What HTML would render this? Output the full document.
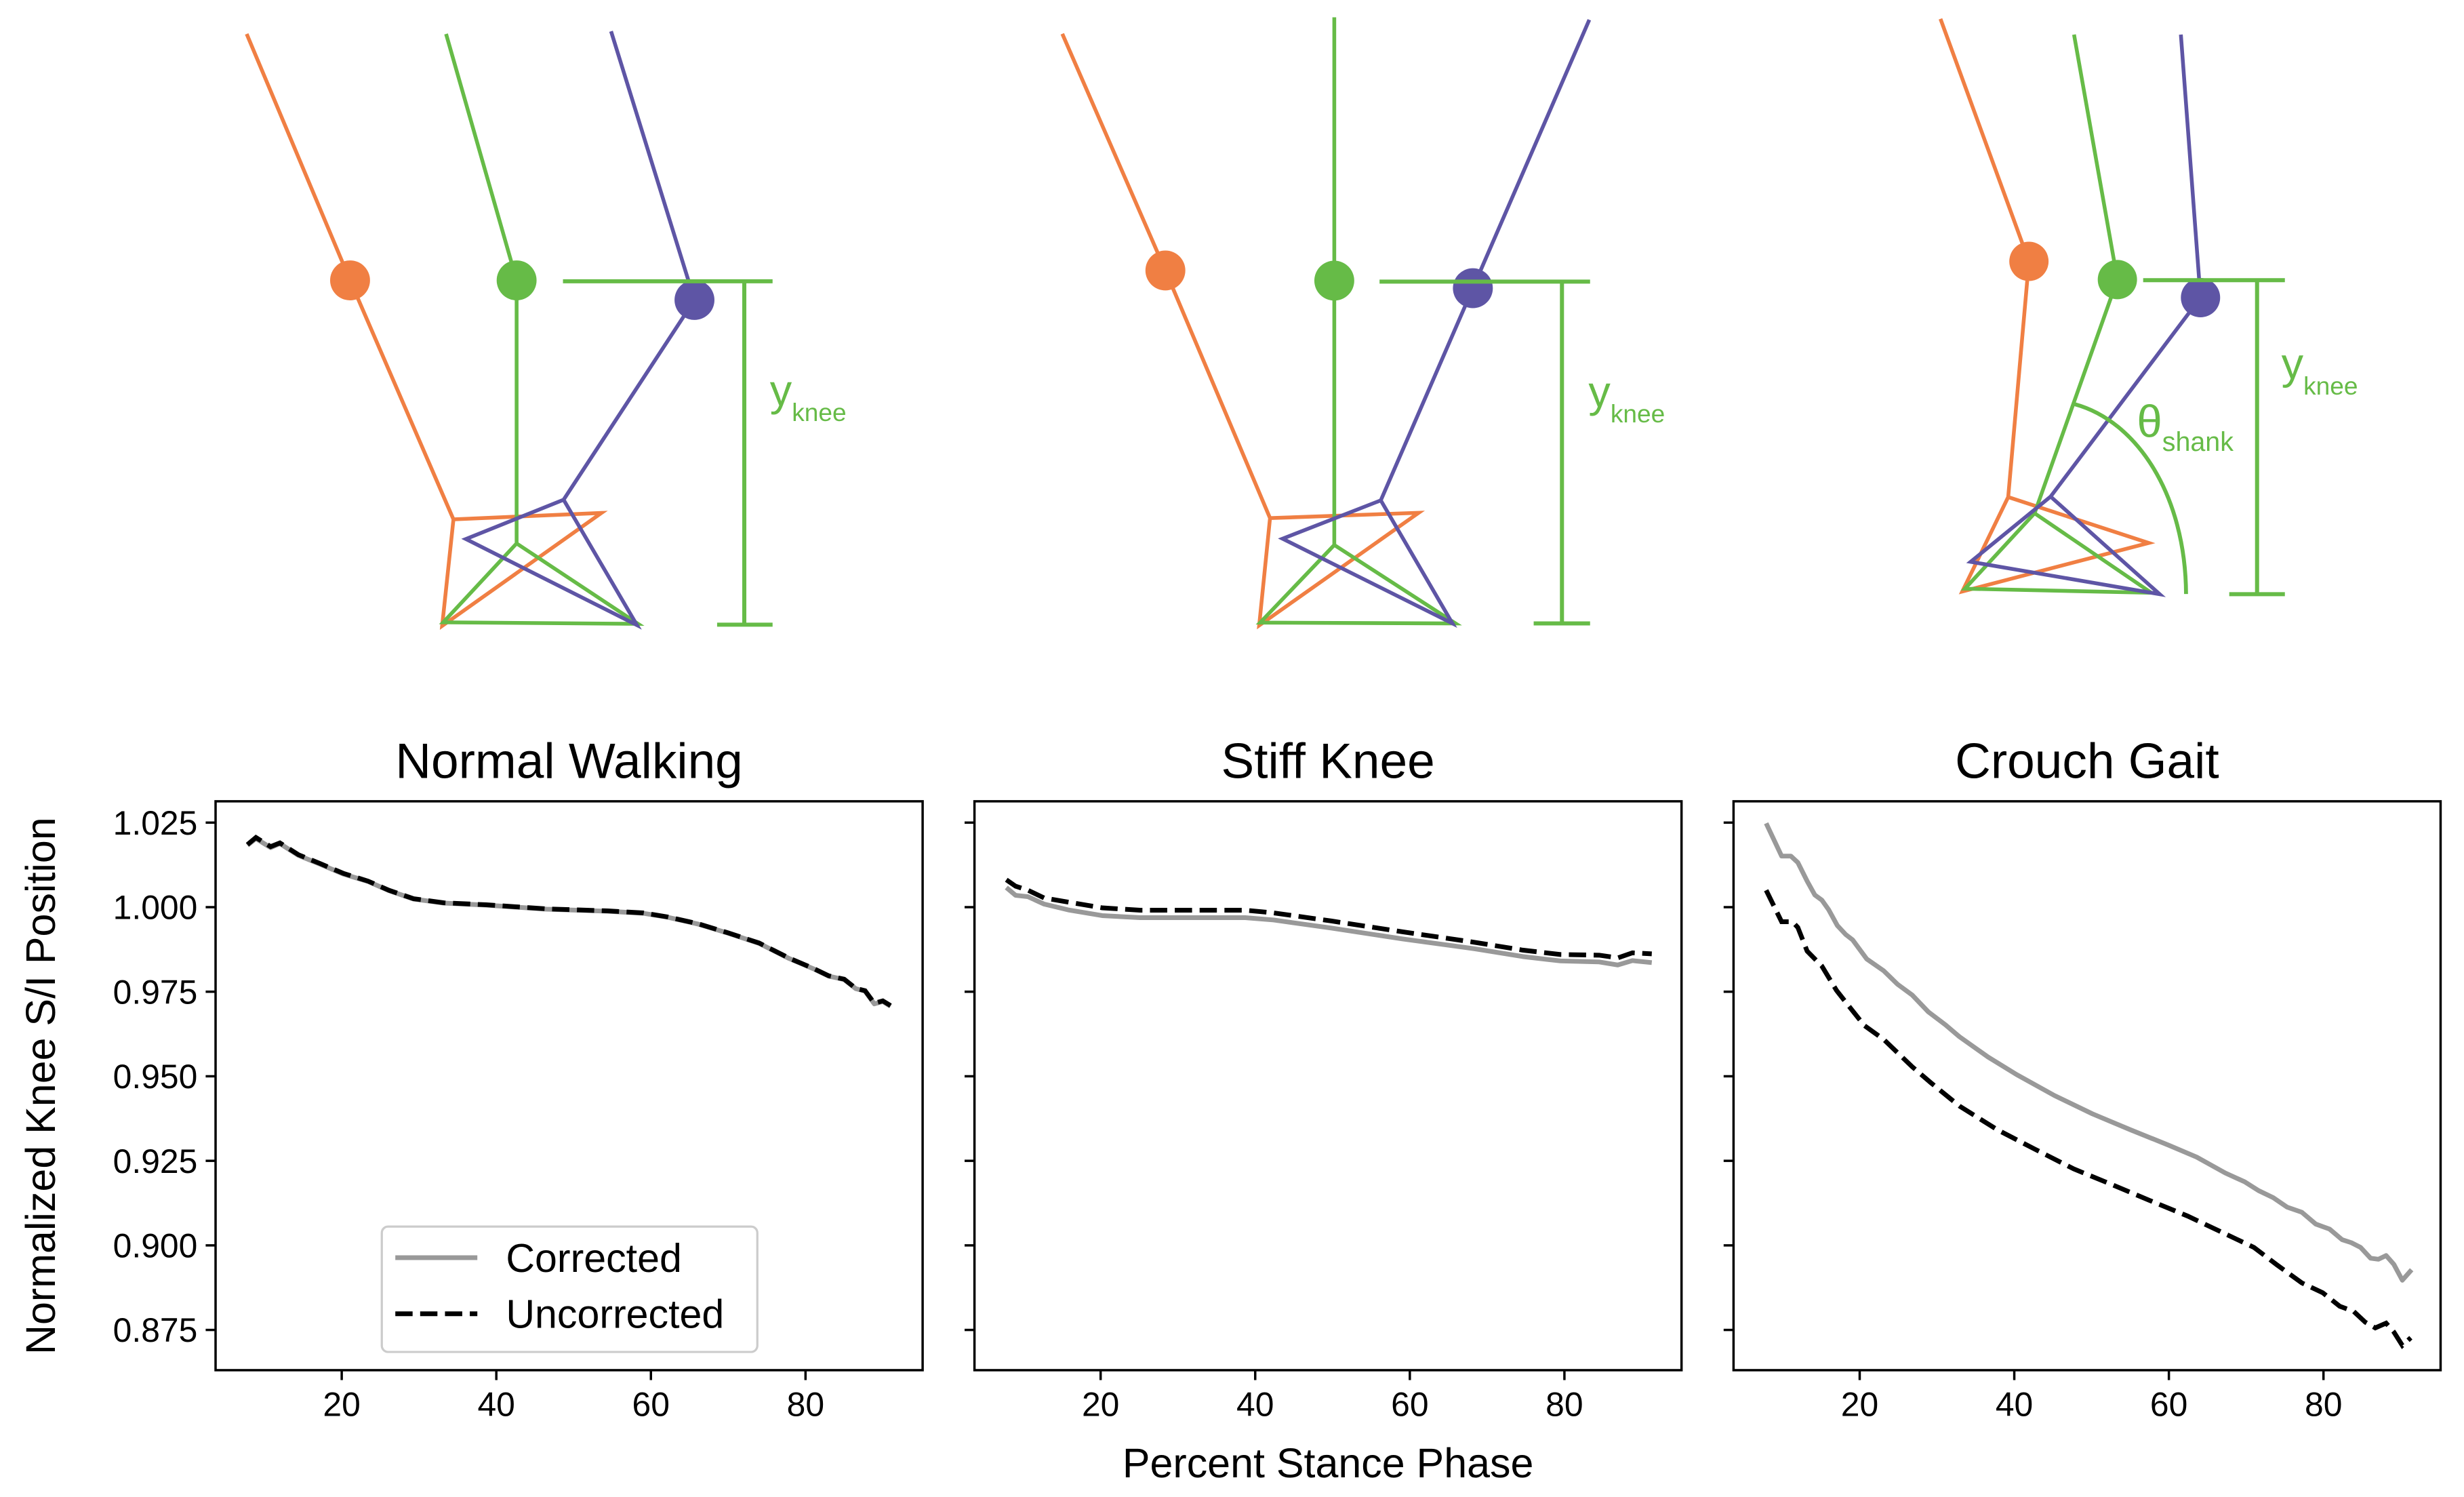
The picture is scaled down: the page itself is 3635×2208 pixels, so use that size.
<!DOCTYPE html>
<html><head><meta charset="utf-8"><style>
html,body{margin:0;padding:0;background:#fff;}
svg{display:block;}
text{font-family:"Liberation Sans",sans-serif;}
</style></head><body>
<svg id="fig" xmlns="http://www.w3.org/2000/svg" width="3635" height="2208" viewBox="0 0 1568.2 952.6" preserveAspectRatio="none">
<g fill="none" stroke-width="2.4" stroke-linejoin="miter">
  <polyline stroke="#F07F43" points="157,21.6 222.8,178.4 288.6,330.5 382.8,326.4 281.4,398.3 288.6,330.5"/>
  <polyline stroke="#66BB47" points="283.9,21.6 328.8,178.4 328.8,345.8 282.1,396 406.1,397 328.8,345.8"/>
  <polyline stroke="#5E55A5" points="388.9,19.9 442,190.9 358.7,318 296.5,343 405.4,397.8 358.7,318"/>
  <circle cx="222.8" cy="178.4" r="12.7" fill="#F07F43" stroke="none"/>
  <circle cx="328.8" cy="178.4" r="12.7" fill="#66BB47" stroke="none"/>
  <circle cx="442" cy="190.9" r="12.7" fill="#5E55A5" stroke="none"/>
  <g stroke="#66BB47" stroke-width="2.6">
    <line x1="358.3" y1="179" x2="491.7" y2="179"/><line x1="473.7" y1="179" x2="473.7" y2="397.5"/><line x1="456.4" y1="397.5" x2="491.7" y2="397.5"/>
  </g>
  <text x="490" y="258" fill="#66BB47" stroke="none" font-size="28">y<tspan font-size="16" dy="10">knee</tspan></text>
</g>
<g fill="none" stroke-width="2.4">
  <polyline stroke="#F07F43" points="676.1,21.5 741.7,172.1 808.3,329.7 902.9,326.3 801.4,398 808.3,329.7"/>
  <polyline stroke="#66BB47" points="849.2,11 849.2,178.6 849.2,346.8 802,396.2 926.4,396.7 849.2,346.8"/>
  <polyline stroke="#5E55A5" points="1011.5,12.6 937.4,183.4 878.8,318.4 816.3,342.8 924.4,396.7 878.8,318.4"/>
  <circle cx="741.7" cy="172.1" r="12.7" fill="#F07F43" stroke="none"/>
  <circle cx="849.2" cy="178.6" r="12.7" fill="#66BB47" stroke="none"/>
  <circle cx="937.4" cy="183.4" r="12.7" fill="#5E55A5" stroke="none"/>
  <g stroke="#66BB47" stroke-width="2.6">
    <line x1="878" y1="179.2" x2="1012" y2="179.2"/><line x1="994.1" y1="179.2" x2="994.1" y2="396.7"/><line x1="976.1" y1="396.7" x2="1012" y2="396.7"/>
  </g>
  <text x="1011" y="258.8" fill="#66BB47" stroke="none" font-size="28">y<tspan font-size="16" dy="10">knee</tspan></text>
</g>
<g fill="none" stroke-width="2.4">
  <polyline stroke="#F07F43" points="1235,12 1291.3,166.3 1278.1,316.3 1367.5,345.5 1248.9,376.4 1278.1,316.3"/>
  <polyline stroke="#66BB47" points="1320,22 1347.6,177.9 1294.9,326.6 1250.6,374.6 1369.2,377.2 1294.9,326.6"/>
  <polyline stroke="#5E55A5" points="1388,22 1400.5,189.4 1305.1,316 1254.2,357.5 1374.5,378.1 1305.1,316"/>
  <circle cx="1291.3" cy="166.3" r="12.5" fill="#F07F43" stroke="none"/>
  <circle cx="1347.6" cy="177.9" r="12.5" fill="#66BB47" stroke="none"/>
  <circle cx="1400.5" cy="189.4" r="12.5" fill="#5E55A5" stroke="none"/>
  <path stroke="#66BB47" stroke-width="2.5" d="M1320.5,257.2 C1360,268 1391,315 1391.3,378"/>
  <text x="1360" y="278" fill="#66BB47" stroke="none" font-size="29">θ<tspan font-size="17" dy="9">shank</tspan></text>
  <g stroke="#66BB47" stroke-width="2.6">
    <line x1="1364" y1="178.3" x2="1454.2" y2="178.3"/><line x1="1436.5" y1="178.3" x2="1436.5" y2="378.1"/><line x1="1418.8" y1="378.1" x2="1454.2" y2="378.1"/>
  </g>
  <text x="1452" y="241" fill="#66BB47" stroke="none" font-size="28">y<tspan font-size="16" dy="10">knee</tspan></text>
</g>
<g id="charts"></g>
</svg>
<script>
const xN = [7.8,8.9,10.8,12,14.4,17.1,20.2,23.4,26.1,29.3,33.2,38.7,46.5,54.4,59,62.2,66.1,70,74,77.9,81,83,85,86.5,87.7,88.9,90,91];
const normCorr = [1.0183,1.0203,1.0176,1.0188,1.0153,1.0128,1.0098,1.0076,1.0049,1.0024,1.0012,1.0006,0.9994,0.9988,0.9982,0.997,0.995,0.9923,0.9893,0.9848,0.9818,0.9796,0.9786,0.9759,0.9752,0.9714,0.9721,0.9707];
const normUnc = [1.0185,1.0206,1.0179,1.019,1.0155,1.013,1.01,1.0077,1.005,1.0025,1.0013,1.0007,0.9995,0.9989,0.9983,0.9971,0.9951,0.9924,0.9894,0.9849,0.9819,0.9797,0.9787,0.976,0.9753,0.9716,0.9723,0.9709];
const xS = [7.8,9.0,10.6,12.7,15.8,20.2,25.1,31.3,38.7,42.4,49.9,59.1,68.4,74.6,79.5,84.5,86.9,88.8,91.3];
const stiffCorr = [1.0058,1.0035,1.0031,1.0009,0.9992,0.9975,0.9969,0.9969,0.9969,0.9962,0.9938,0.9906,0.9877,0.9854,0.9841,0.9838,0.9829,0.9842,0.9836];
const stiffUnc = [1.0081,1.0062,1.005,1.0027,1.0015,0.9998,0.9991,0.9991,0.9991,0.9983,0.9959,0.9927,0.9896,0.9873,0.986,0.9858,0.985,0.9865,0.9862];
const xCc = [7.9,9.9,11.1,12,13.2,14.2,15.1,16,17.1,18.2,19.1,20.9,23.1,24.9,26.8,28.9,31.1,32.9,36.6,40.3,45.2,50.1,55,60,63.6,67.3,69.8,71.6,73.5,75.3,77.2,79,80.8,82.4,83.6,84.8,86.1,87.1,88.1,89.1,90.2,91.4];
const crouchCorr = [1.0248,1.0151,1.0151,1.0132,1.0077,1.0036,1.0021,0.9992,0.9946,0.9919,0.9903,0.9847,0.9812,0.9772,0.974,0.969,0.9652,0.9617,0.9557,0.9505,0.9443,0.9389,0.9342,0.9296,0.9261,0.9214,0.9188,0.9162,0.9141,0.9113,0.9098,0.9063,0.9048,0.9017,0.9008,0.8994,0.8962,0.8959,0.897,0.8944,0.8897,0.8928];
const xCu = [7.9,9.9,11.3,12,13.2,15.1,17,18.2,20.6,23.1,26.8,29.2,32.9,37.8,42.7,47.7,52.6,57.5,62.4,67.3,71,74,77.2,79.9,82.1,83.9,85.4,86.7,88.1,89.1,90.2,91.3];
const crouchUnc = [1.005,0.9957,0.9957,0.994,0.987,0.9826,0.9754,0.9719,0.965,0.9609,0.9528,0.9481,0.9412,0.9342,0.9284,0.9226,0.918,0.9133,0.9087,0.9034,0.8994,0.8942,0.8889,0.886,0.882,0.8805,0.8773,0.8756,0.877,0.8744,0.8704,0.8727];
const panelTitles = ["Normal Walking","Stiff Knee","Crouch Gait"];
const yTicks = [0.875,0.900,0.925,0.950,0.975,1.000,1.025];
const yTickLabels = ["0.875","0.900","0.925","0.950","0.975","1.000","1.025"];
const xTicks = [20,40,60,80];
const xTickLabels = ["20","40","60","80"];

const NS="http://www.w3.org/2000/svg";
const root=document.getElementById('charts');
const PL=[137.2,620.2,1103.3], PW=450, PT=509.9, PH=362;
const XMIN=3.68, XMAX=95.15, YMIN=0.8631, YMAX=1.0313;
function sx(p,x){return PL[p]+(x-XMIN)/(XMAX-XMIN)*PW;}
function sy(v){return PT+(YMAX-v)/(YMAX-YMIN)*PH;}
function mk(tag,attrs,parent){const e=document.createElementNS(NS,tag);for(const k in attrs)e.setAttribute(k,attrs[k]);(parent||root).appendChild(e);return e;}
const series=[[xN,normCorr,xN,normUnc],[xS,stiffCorr,xS,stiffUnc],[xCc,crouchCorr,xCu,crouchUnc]];
const slug=["normal-walking","stiff-knee","crouch-gait"];
for(let p=0;p<3;p++){
  const g=mk('g',{});
  
  
  const s=series[p];
  const c=mk('polyline',{points:s[0].map((x,i)=>sx(p,x).toFixed(2)+','+sy(s[1][i]).toFixed(2)).join(' '),fill:'none',stroke:'#999999','stroke-width':3,'stroke-linejoin':'round'},g);
  
  
  const u=mk('polyline',{points:s[2].map((x,i)=>sx(p,x).toFixed(2)+','+sy(s[3][i]).toFixed(2)).join(' '),fill:'none',stroke:'#000','stroke-width':3,'stroke-dasharray':'11,4.8'},g);
  
  
  const f=mk('rect',{x:PL[p],y:PT,width:PW,height:PH,fill:'none',stroke:'#000','stroke-width':1.5},g);
  
  
  const t=mk('text',{x:PL[p]+PW/2,y:495,'text-anchor':'middle','font-size':31.5},g);
  t.textContent=panelTitles[p];
  
  
  yTicks.forEach((v,i)=>{
    const tk=mk('line',{x1:PL[p]-6.3,x2:PL[p],y1:sy(v),y2:sy(v),stroke:'#000','stroke-width':1.5},g);
    
    
    if(p===0){
      const tl=mk('text',{x:PL[p]-11.5,y:sy(v)+7.6,'text-anchor':'end','font-size':21.5},g);
      tl.textContent=yTickLabels[i];
      
      
    }
  });
  xTicks.forEach((x,i)=>{
    const tk=mk('line',{x1:sx(p,x),x2:sx(p,x),y1:PT+PH,y2:PT+PH+6.3,stroke:'#000','stroke-width':1.5},g);
    
    
    const tl=mk('text',{x:sx(p,x),y:901,'text-anchor':'middle','font-size':21.5},g);
    tl.textContent=xTickLabels[i];
    
    
  });
}
const yl=mk('text',{x:0,y:0,'text-anchor':'middle','font-size':26.3,transform:'translate(35,691) rotate(-90)'});
yl.textContent="Normalized Knee S/I Position";


const xl=mk('text',{x:845.2,y:940,'text-anchor':'middle','font-size':26.3});
xl.textContent="Percent Stance Phase";


const lg=mk('g',{});


const lb=mk('rect',{x:243,y:780.5,width:239,height:79.8,rx:4,fill:'#fff','fill-opacity':0.8,stroke:'#cccccc','stroke-width':1.4},lg);


const l1=mk('line',{x1:251.6,x2:303.8,y1:800.3,y2:800.3,stroke:'#999999','stroke-width':3},lg);


const t1=mk('text',{x:322,y:809.4,'font-size':25.5},lg);
t1.textContent="Corrected";


const l2=mk('line',{x1:251.6,x2:303.8,y1:836,y2:836,stroke:'#000','stroke-width':3,'stroke-dasharray':'11,4.8'},lg);


const t2=mk('text',{x:322,y:845,'font-size':25.5},lg);
t2.textContent="Uncorrected";


</script>
</body></html>
